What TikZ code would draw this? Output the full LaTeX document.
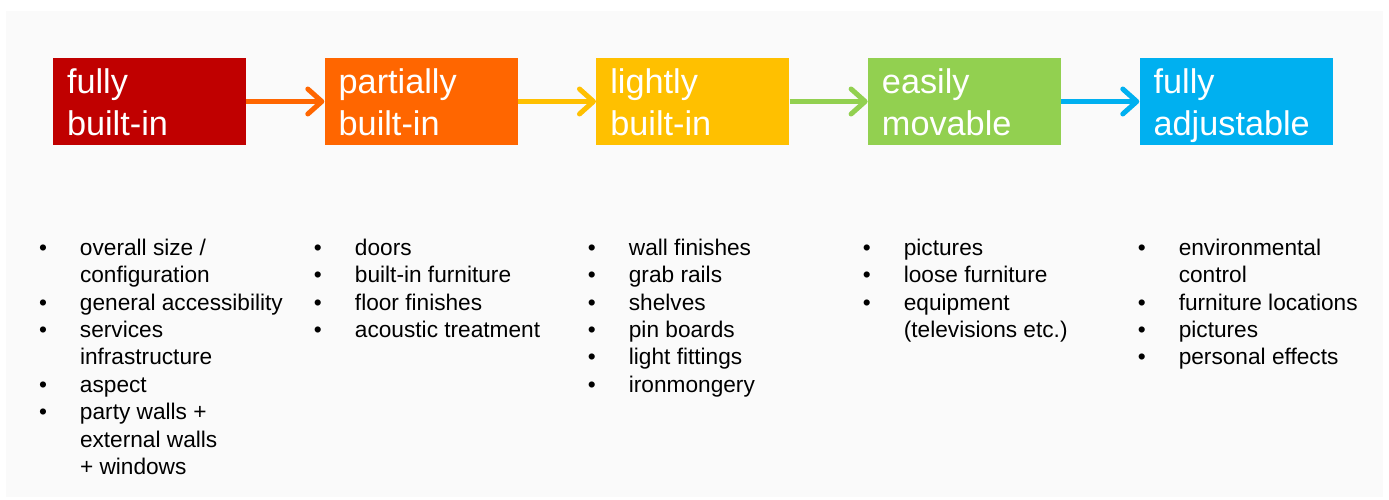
\documentclass[tikz,border=0pt]{standalone}
\usepackage{fontspec}
\setmainfont{Liberation Sans}
\usetikzlibrary{positioning}
\usetikzlibrary{arrows.meta}
\definecolor{bg}{RGB}{250,250,250}
\definecolor{builtin}{RGB}{192,0,0}
\definecolor{partial}{RGB}{255,102,0}
\definecolor{lightly}{RGB}{255,192,0}
\definecolor{movable}{RGB}{146,208,80}
\definecolor{adjust}{RGB}{0,176,240}
\newcommand{\featlist}[1]{\begin{tabular}[t]{@{}p{0.82cm}@{}l@{}}#1\end{tabular}}

\begin{document}
\begin{tikzpicture}[x=0.02cm, y=0.02cm,
    stage/.style={minimum width=3.86cm, minimum height=1.74cm, inner xsep=0.28cm, inner ysep=0pt,
      text width=3.3cm, text height=15pt, text depth=24pt, align=left, text=white,
      font=\fontsize{19.5}{24}\selectfont},
    items/.style={inner sep=0pt, font=\fontsize{12.9}{15.6}\selectfont},
    flow/.style={line width=0.1cm, -{Straight Barb[length=0.28cm, width=0.5cm, round]}}]
    \useasboundingbox (0,0) rectangle (1389,500);
    \fill[bg] (6,3) rectangle (1383,489);
    % stages
    \node[stage, fill=builtin] (full) at (149.5,398.5) {fully\\built-in};
    \node[stage, fill=partial, right=1.56cm of full] (part) {partially\\built-in};
    \node[stage, fill=lightly, right=1.56cm of part] (light) {lightly\\built-in};
    \node[stage, fill=movable, right=1.56cm of light] (move) {easily\\movable};
    \node[stage, fill=adjust, right=1.56cm of move] (adj) {fully\\adjustable};
    % arrows
    \draw[flow, partial] (full) -- (part);
    \draw[flow, lightly] (part) -- (light);
    \draw[flow, movable] (light) -- (move);
    \draw[flow, adjust] (move) -- (adj);
    % lists
    \node[items, below=2.2cm of full.south west, xshift=-0.28cm, anchor=base west] (fulllist) {\featlist{
      \textbullet & overall size /\\
      & configuration\\
      \textbullet & general accessibility\\
      \textbullet & services\\
      & infrastructure\\
      \textbullet & aspect\\
      \textbullet & party walls +\\
      & external walls\\
      & + windows}};
    \node[items, right=5.5cm of fulllist.base west, anchor=base west] (partlist) {\featlist{
      \textbullet & doors\\
      \textbullet & built-in furniture\\
      \textbullet & floor finishes\\
      \textbullet & acoustic treatment}};
    \node[items, right=5.48cm of partlist.base west, anchor=base west] (lightlist) {\featlist{
      \textbullet & wall finishes\\
      \textbullet & grab rails\\
      \textbullet & shelves\\
      \textbullet & pin boards\\
      \textbullet & light fittings\\
      \textbullet & ironmongery}};
    \node[items, right=5.5cm of lightlist.base west, anchor=base west] (movelist) {\featlist{
      \textbullet & pictures\\
      \textbullet & loose furniture\\
      \textbullet & equipment\\
      & (televisions etc.)}};
    \node[items, right=5.5cm of movelist.base west, anchor=base west] (adjlist) {\featlist{
      \textbullet & environmental\\
      & control\\
      \textbullet & furniture locations\\
      \textbullet & pictures\\
      \textbullet & personal effects}};
\end{tikzpicture}
\end{document}
